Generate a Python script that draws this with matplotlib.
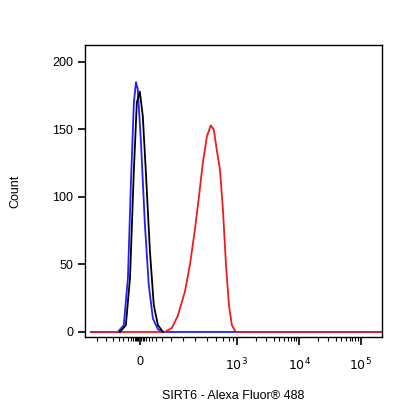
import matplotlib
matplotlib.use("Agg")
import matplotlib.pyplot as plt
import numpy as np

plt.rcParams['font.family'] = ['Liberation Sans', 'DejaVu Sans']

# x in display channels (0-1000), y in counts
blue_x = [20, 111, 131, 145, 155, 165, 172, 178, 189, 202, 215, 229, 246, 259, 1000]
blue_y = [0, 0, 5, 40, 110, 170, 185, 180, 140, 80, 35, 10, 2, 0, 0]
black_x = [118, 138, 152, 165, 175, 185, 195, 205, 219, 232, 246, 263]
black_y = [0, 5, 40, 120, 170, 178, 160, 120, 60, 20, 5, 0]
red_x = [20, 269, 293, 313, 337, 354, 370, 384, 397, 411, 424, 434, 444, 455, 465, 475, 485, 495, 508, 1000]
red_y = [0, 0, 3, 12, 30, 50, 75, 100, 125, 145, 153, 150, 135, 120, 90, 50, 20, 5, 0, 0]
xtick_pos = [185, 512, 721, 929]
xtick_lab = ["0", r"$10^3$", r"$10^4$", r"$10^5$"]
minor_pos = [40, 70, 95, 115, 130, 145, 155, 162, 168, 172, 176, 180, 190, 195, 200, 207, 215, 225, 240, 260, 290, 330, 370, 410, 440, 465, 485, 500,
             575, 610, 637, 655, 670, 683, 693, 703, 712,
             784, 820, 846, 864, 879, 891, 901, 911, 920]

fig = plt.figure(figsize=(4.16, 4.16), dpi=100)
ax = fig.add_axes([0.204, 0.19, 0.714, 0.702])
ax.plot(blue_x, blue_y, color="#1f1fff", lw=1.3)
ax.plot(red_x, red_y, color="#ee1c1c", lw=1.3)
ax.plot(black_x, black_y, color="black", lw=1.3)
ax.set_xlim(0, 1000)
ax.set_ylim(-3.7, 212.6)
ax.set_yticks([0, 50, 100, 150, 200])
ax.set_xticks(xtick_pos)
ax.set_xticklabels(xtick_lab)
ax.set_xticks(minor_pos, minor=True)
ax.tick_params(axis="x", which="major", length=6, width=1.2, direction="out", pad=8, labelsize=9)
ax.tick_params(axis="x", which="minor", length=3, width=0.8)
ax.tick_params(axis="y", which="major", length=5, width=1.2, labelsize=9)
for s in ax.spines.values():
    s.set_linewidth(1.0)
ax.set_ylabel("Count", fontsize=9, labelpad=22)
ax.set_xlabel("SIRT6 - Alexa Fluor\u00ae 488", fontsize=9, labelpad=12)
fig.savefig("out.png", dpi=100)
